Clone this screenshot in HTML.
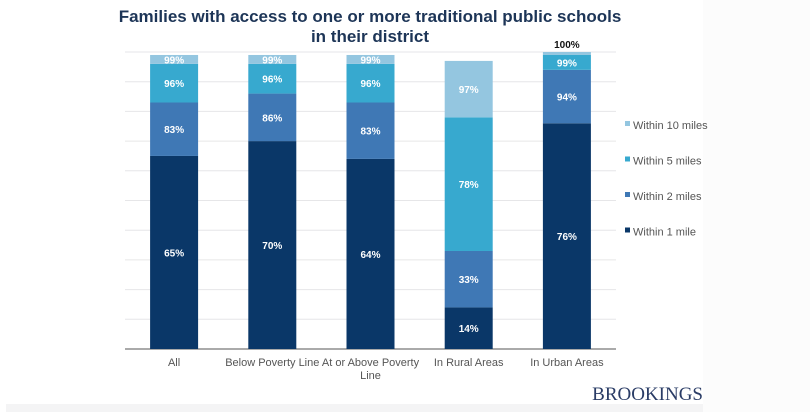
<!DOCTYPE html>
<html><head><meta charset="utf-8"><style>
body{margin:0;background:#fff;}
svg{display:block;font-family:"Liberation Sans",Arial,sans-serif;}
</style></head><body>
<svg id="c" width="810" height="412" viewBox="0 0 810 412">
<rect x="703" y="0" width="107" height="412" fill="#fcfcfc"/>
<rect x="6" y="404" width="697" height="8" fill="#f4f4f5"/>
<text x="370" y="22" text-anchor="middle" font-size="17" font-weight="bold" fill="#1d3557">Families with access to one or more traditional public schools</text>
<text x="370" y="42" text-anchor="middle" font-size="17" font-weight="bold" fill="#1d3557">in their district</text>
<g id="grid"></g><g id="bars"></g><g id="xl"></g><g id="leg"></g>
<text x="703" y="400" text-anchor="end" font-family="Liberation Serif,serif" font-size="19" fill="#2a3c66">BROOKINGS</text>
</svg>
<script>
const categories=["All","Below Poverty Line","At or Above Poverty Line","In Rural Areas","In Urban Areas"];
const within1=[65,70,64,14,76];
const within2=[83,86,83,33,94];
const within5=[96,96,96,78,99];
const within10=[99,99,99,97,100];
const seriesNames=["Within 10 miles","Within 5 miles","Within 2 miles","Within 1 mile"];
const gridTicks=[0,10,20,30,40,50,60,70,80,90,100];
const colors={w1:"#0a3768",w2:"#3f78b5",w5:"#37a9cf",w10:"#94c6e0"};
const NS="http://www.w3.org/2000/svg";
const x0=125,x1=616,y0=349,y100=52;
const band=(x1-x0)/categories.length, bw=48;
const y=v=>y0-(y0-y100)*v/100;
const xc=i=>x0+band*(i+0.5);
function mk(p,t,a){const e=document.createElementNS(NS,t);for(const k in a)e.setAttribute(k,a[k]);p.appendChild(e);return e;}
const G=document.getElementById('grid'),B=document.getElementById('bars'),XL=document.getElementById('xl'),L=document.getElementById('leg');
gridTicks.forEach(t=>{if(t===0)return;const l=mk(G,'line',{x1:x0,x2:x1,y1:y(t),y2:y(t),stroke:'#e6e6e8','stroke-width':1});

});
const base=mk(G,'line',{x1:x0,x2:x1,y1:y0,y2:y0,stroke:'#555','stroke-width':1});


categories.forEach((c,i)=>{
 const segs=[[0,within1[i],colors.w1,'within-1'],[within1[i],within2[i],colors.w2,'within-2'],[within2[i],within5[i],colors.w5,'within-5'],[within5[i],within10[i],colors.w10,'within-10']];
 segs.forEach(s=>{
  const r=mk(B,'rect',{x:xc(i)-bw/2,y:y(s[1]),width:bw,height:y(s[0])-y(s[1]),fill:s[2]});
  
  
  const h=y(s[0])-y(s[1]);
  const inside=h>=6;
  const t=mk(B,'text',{x:xc(i),y:inside?(y(s[0])+y(s[1]))/2+4:y(s[1])-4,'text-anchor':'middle','font-size':10,'font-weight':'bold',fill:inside?'#fff':'#111'});
  t.textContent=s[1]+'%';
  
  
 });
 const words=c==="At or Above Poverty Line"?["At or Above Poverty","Line"]:[c];
 words.forEach((w,k)=>{const t=mk(XL,'text',{x:xc(i),y:366+k*13,'text-anchor':'middle','font-size':11,fill:'#555'});t.textContent=w;
 
 });
});
const lc=[colors.w10,colors.w5,colors.w2,colors.w1];
seriesNames.forEach((n,k)=>{const yy=125+k*35.5;
 const g=mk(L,'g',{});
 
 
 mk(g,'rect',{x:625,y:yy-4,width:5,height:5,fill:lc[k]});
 const t=mk(g,'text',{x:633,y:yy+4,'font-size':11,fill:'#555'});t.textContent=n;});
</script>
</body></html>
